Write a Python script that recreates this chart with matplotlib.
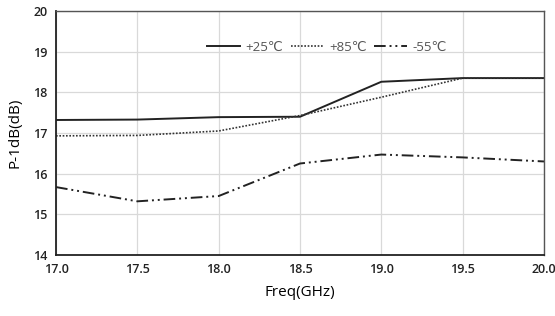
import matplotlib
matplotlib.use("Agg")
import matplotlib.pyplot as plt

freq = [17.0, 17.5, 18.0, 18.5, 19.0, 19.5, 20.0]
p25 = [17.32, 17.33, 17.39, 17.40, 18.26, 18.35, 18.35]
p85 = [16.93, 16.94, 17.05, 17.43, 17.88, 18.35, 18.35]
m55 = [15.67, 15.32, 15.45, 16.25, 16.47, 16.40, 16.30]
labels = ["+25\u2103", "+85\u2103", "-55\u2103"]
xticks = [17.0, 17.5, 18.0, 18.5, 19.0, 19.5, 20.0]
yticks = [14, 15, 16, 17, 18, 19, 20]

plt.rcParams['font.family'] = ['Open Sans', 'DejaVu Sans']
fig = plt.figure(figsize=(5.55, 3.16), dpi=100)
ax = fig.add_axes([56/555, 1 - 255/316, (544-56)/555, (255-11)/316])

ax.plot(freq, p25, color='#222222', lw=1.4, ls='-', label=labels[0])
ax.plot(freq, p85, color='#333333', lw=1.2, ls=(0, (1, 1)), label=labels[1])
ax.plot(freq, m55, color='#222222', lw=1.4, ls=(0, (6, 2, 1, 2, 1, 2)), label=labels[2])

ax.set_xlim(17.0, 20.0)
ax.set_ylim(14, 20)
ax.set_xticks(xticks)
ax.set_xticklabels([f"{v:.1f}" for v in xticks])
ax.set_yticks(yticks)
ax.tick_params(length=0, labelsize=9, colors='#222222', pad=6)
for lab in ax.get_xticklabels() + ax.get_yticklabels():
    lab.set_fontweight('semibold')
ax.grid(True, color='#d9d9d9', lw=0.9)
ax.set_axisbelow(True)
for s in ['left', 'bottom']:
    ax.spines[s].set_color('#222222')
    ax.spines[s].set_linewidth(1.3)
for s in ['top', 'right']:
    ax.spines[s].set_color('#555555')
    ax.spines[s].set_linewidth(1.0)

ax.set_xlabel('Freq(GHz)', fontsize=11, labelpad=6)
ax.set_ylabel('P-1dB(dB)', fontsize=11, labelpad=8)

leg = ax.legend(loc='center', bbox_to_anchor=(0.555, 0.852), ncol=3, frameon=False,
                fontsize=9.5, handlelength=2.5, handletextpad=0.4, columnspacing=0.6)
for t in leg.get_texts():
    t.set_color('#555555')

fig.savefig('out.png', dpi=100)
